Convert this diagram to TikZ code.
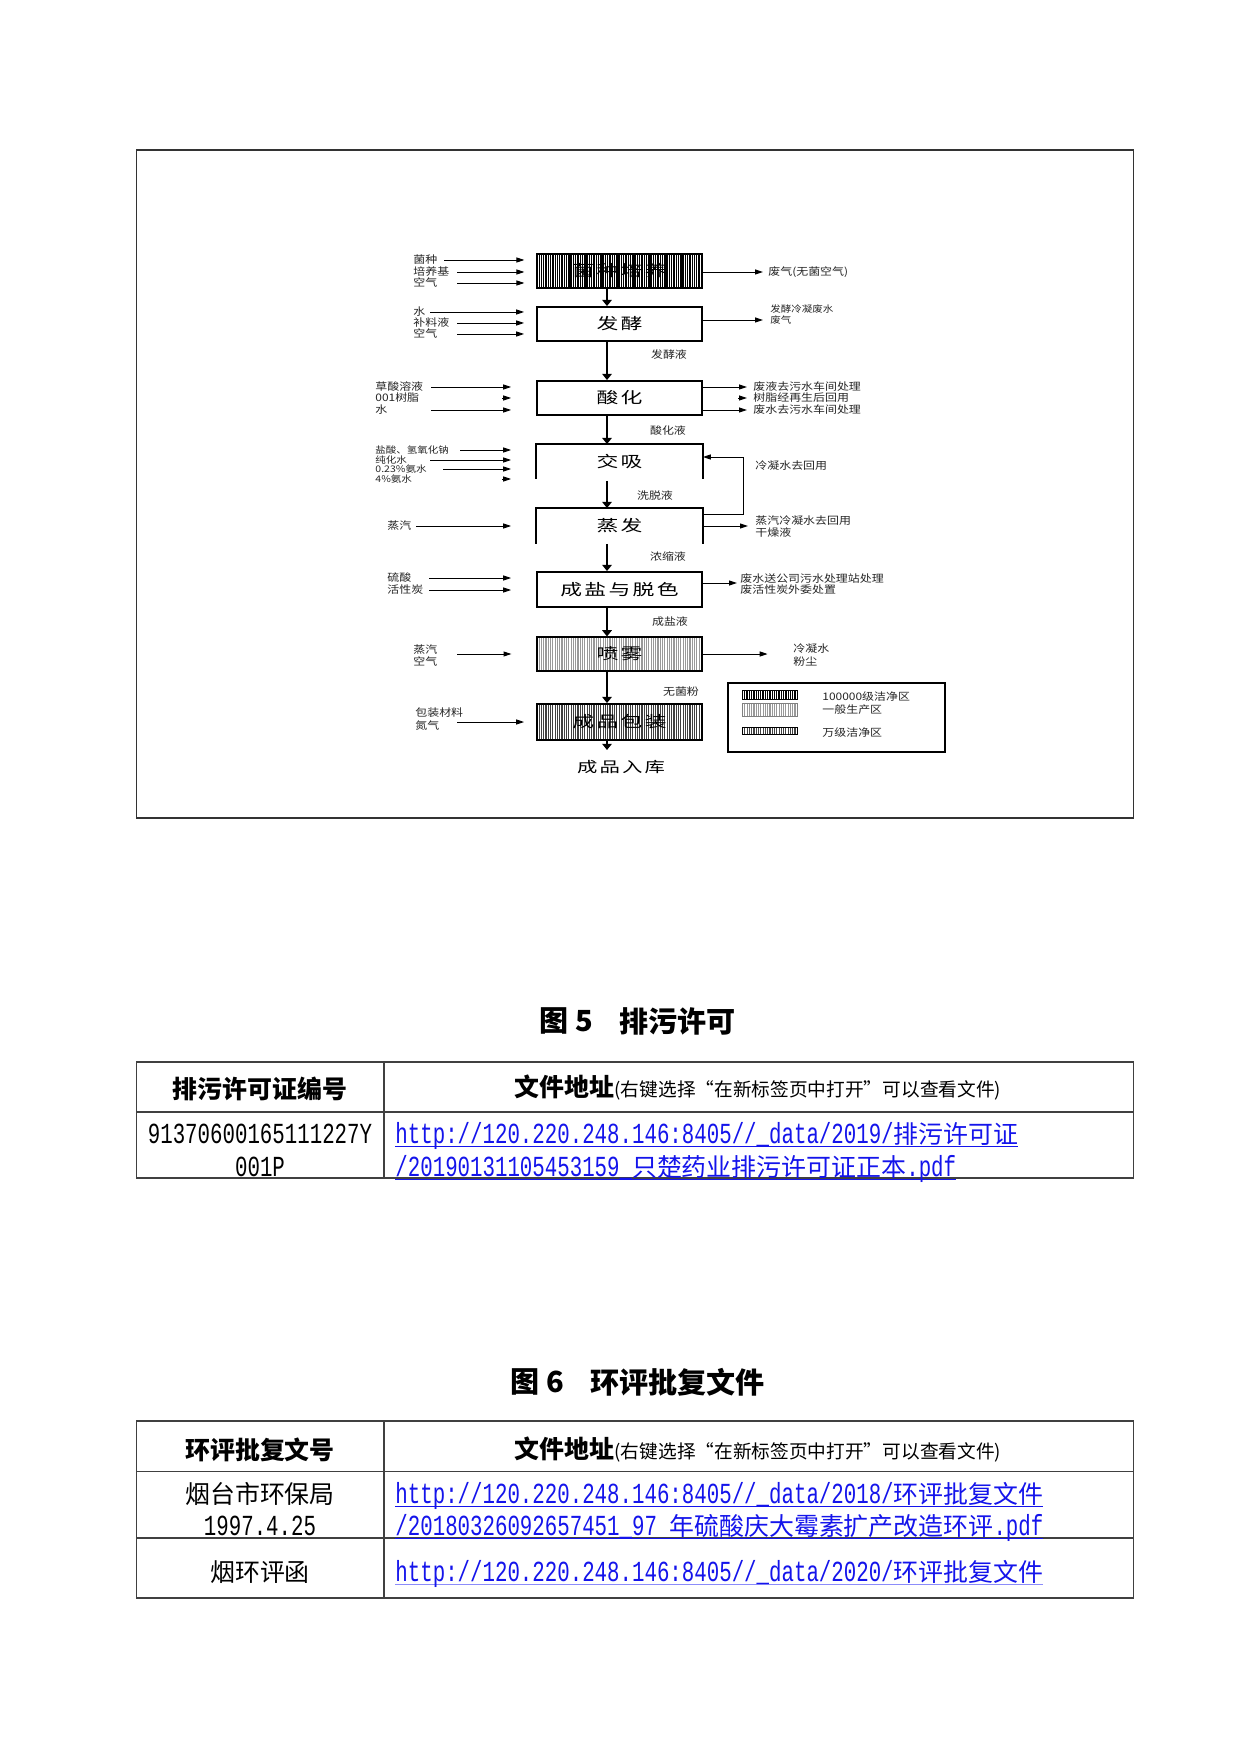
\documentclass[tikz,border=0pt]{standalone}
\usepackage{fontspec}
\setmainfont{Liberation Serif}
\newfontfamily\cjk{Noto Sans CJK SC}
\newfontfamily\cjkwide[FakeStretch=1.4,LetterSpace=15]{Noto Sans CJK SC}
\newfontfamily\cjks[FakeStretch=1.15]{Noto Sans CJK SC}
\newfontfamily\lat[FakeStretch=0.714,Scale=1.1667]{Liberation Mono}
\usetikzlibrary{arrows.meta,patterns.meta,calc}
\definecolor{linkblue}{RGB}{20,20,235}
\definecolor{ullight}{RGB}{140,140,250}
\newcommand\myul[2][linkblue]{\setbox0\hbox{#2}\rlap{\color{#1}\rule[-1.9pt]{\wd0}{0.55pt}}\box0}
\tikzset{
  frame/.style={draw=black!80, line width=0.6pt},
  tline/.style={draw=black!75, line width=0.7pt},
  pbox/.style={draw, line width=0.9pt, minimum width=27.92mm, minimum height=5.75mm, inner sep=0,
    font=\cjkwide\fontsize{7.5}{8}\selectfont},
  openside/.style={line width=0.9pt},
  flow/.style={line width=0.9pt, -{Triangle[length=3pt,width=4.6pt]}},
  inarr/.style={line width=0.45pt, -{Triangle[length=3.8pt,width=2.4pt]}},
  lab/.style={anchor=west, inner sep=0, text=black!85, font=\cjks\fontsize{5}{6}\selectfont},
  tinylab/.style={lab, font=\cjks\fontsize{4.4}{5}\selectfont},
  midlab/.style={inner sep=0, text=black!85, font=\cjks\fontsize{5}{6}\selectfont},
  darkhatch/.style={preaction={fill=white}, pattern={Lines[angle=90,distance=1.1pt,line width=0.65pt]}, pattern color=black},
  lighthatch/.style={preaction={fill=white}, pattern={Lines[angle=90,distance=1.1pt,line width=0.55pt]}, pattern color=black!40},
  midhatch/.style={preaction={fill=white}, pattern={Lines[angle=90,distance=1.1pt,line width=0.55pt]}, pattern color=black!75},
  captext/.style={anchor=west, inner sep=0, font=\cjk\bfseries\fontsize{14}{16}\selectfont},
  hdr/.style={inner sep=0, font=\cjk\bfseries\fontsize{12}{14}\selectfont},
  body/.style={anchor=base, inner sep=0, font=\fontsize{12}{14}\selectfont},
  link/.style={anchor=base west, inner sep=0, text=linkblue, font=\fontsize{12}{14}\selectfont}
}
\begin{document}
\begin{tikzpicture}[x=0.16922mm,y=-0.16922mm]
\useasboundingbox (0,0) rectangle (1241,1754);
\fill[white] (0,0) rectangle (1241,1754);

% ---------- flowchart frame ----------
\draw[frame] (136.5,150) rectangle (1133.5,818);

% ---------- process boxes ----------
\node[pbox, darkhatch] (b1) at (619.5,271) {菌种培养};
\node[pbox] (b2) at (619.5,324) {发酵};
\node[pbox] (b3) at (619.5,398) {酸化};
\node[pbox, draw=none, minimum height=5.58mm] (b4) at (619.5,461.5) {交吸};
\draw[openside] (b4.south west) -- (b4.north west) -- (b4.north east) -- (b4.south east);
\node[pbox, draw=none] (b5) at (619.5,526) {蒸发};
\draw[openside] (b5.south west) -- (b5.north west) -- (b5.north east) -- (b5.south east);
\node[pbox, minimum height=5.92mm] (b6) at (619.5,589.5) {成盐与脱色};
\node[pbox, lighthatch] (b7) at (619.5,654) {喷雾};
\node[pbox, midhatch, minimum height=6.09mm] (b8) at (619.5,722) {成品包装};
\node[inner sep=0, font=\cjkwide\fontsize{7}{8}\selectfont] (fin) at (621,767) {成品入库};

% ---------- main flow ----------
\coordinate (ax) at (607,0);
\coordinate (finend) at (607,750);
\draw[flow] (b1.south -| ax) -- (b2.north -| ax);
\draw[flow] (b2.south -| ax) -- (b3.north -| ax);
\draw[flow] (b3.south -| ax) -- (b4.north -| ax);
\draw[flow] ($(b4.south -| ax)+(0,2)$) -- (b5.north -| ax);
\draw[flow] (b5.south -| ax) -- (b6.north -| ax);
\draw[flow] (b6.south -| ax) -- (b7.north -| ax);
\draw[flow] (b7.south -| ax) -- (b8.north -| ax);
\draw[flow] (b8.south -| ax) -- (finend);

% ---------- intermediate labels ----------
\node[midlab] (m1) at (669,355) {发酵液};
\node[midlab] (m2) at (668,431) {酸化液};
\node[midlab] (m3) at (655,496) {洗脱液};
\node[midlab] (m4) at (668,557) {浓缩液};
\node[midlab] (m5) at (670,622) {成盐液};
\node[midlab] (m6) at (681,692) {无菌粉};

% ---------- inputs ----------
\node[lab] (l11) at (413,260) {菌种};
\node[lab] (l12) at (413,272) {培养基};
\node[lab] (l13) at (413,283) {空气};
\draw[inarr] ($(b1.west|-l11)+(-92,0)$) -- ($(b1.west|-l11)+(-12,0)$);
\draw[inarr] ($(b1.west|-l12)+(-79,0)$) -- ($(b1.west|-l12)+(-12,0)$);
\draw[inarr] ($(b1.west|-l13)+(-79,0)$) -- ($(b1.west|-l13)+(-12,0)$);

\node[lab] (l21) at (413,312) {水};
\node[lab] (l22) at (413,323) {补料液};
\node[lab] (l23) at (413,334) {空气};
\draw[inarr] ($(b2.west|-l21)+(-106,0)$) -- ($(b2.west|-l21)+(-12,0)$);
\draw[inarr] ($(b2.west|-l22)+(-79,0)$) -- ($(b2.west|-l22)+(-12,0)$);
\draw[inarr] ($(b2.west|-l23)+(-79,0)$) -- ($(b2.west|-l23)+(-12,0)$);

\node[lab] (l31) at (375,387) {草酸溶液};
\node[lab] (l32) at (375,398) {001树脂};
\node[lab] (l33) at (375,410) {水};
\draw[inarr] ($(b3.west|-l31)+(-105,0)$) -- ($(b3.west|-l31)+(-25,0)$);
\draw[inarr] ($(b3.west|-l32)+(-34,0)$) -- ($(b3.west|-l32)+(-25,0)$);
\draw[inarr] ($(b3.west|-l33)+(-105,0)$) -- ($(b3.west|-l33)+(-25,0)$);

\node[tinylab] (l41) at (375,450) {盐酸、氢氧化钠};
\node[tinylab] (l42) at (375,460) {纯化水};
\node[tinylab] (l43) at (375,469) {0.23\%氨水};
\node[tinylab] (l44) at (375,479) {4\%氨水};
\draw[inarr] ($(b4.west|-l41)+(-76,0)$) -- ($(b4.west|-l41)+(-25,0)$);
\draw[inarr] ($(b4.west|-l42)+(-106,0)$) -- ($(b4.west|-l42)+(-25,0)$);
\draw[inarr] ($(b4.west|-l43)+(-93,0)$) -- ($(b4.west|-l43)+(-25,0)$);
\draw[inarr] ($(b4.west|-l44)+(-34,0)$) -- ($(b4.west|-l44)+(-25,0)$);

\node[lab] (l51) at (387,526) {蒸汽};
\draw[inarr] ($(b5.west|-l51)+(-120,0)$) -- ($(b5.west|-l51)+(-25,0)$);

\node[lab] (l61) at (387,578) {硫酸};
\node[lab] (l62) at (387,590) {活性炭};
\draw[inarr] ($(b6.west|-l61)+(-107,0)$) -- ($(b6.west|-l61)+(-25,0)$);
\draw[inarr] ($(b6.west|-l62)+(-107,0)$) -- ($(b6.west|-l62)+(-25,0)$);

\node[lab] (l71) at (413,650) {蒸汽};
\node[lab] (l72) at (413,662) {空气};
\draw[inarr] ($(b7.west)+(-79,0)$) -- ($(b7.west)+(-25,0)$);

\node[lab] (l81) at (415,713) {包装材料};
\node[lab] (l82) at (415,726) {氮气};
\draw[inarr] ($(b8.west)+(-79,0)$) -- ($(b8.west)+(-12,0)$);

% ---------- outputs ----------
\node[lab] (r1) at (768,272) {废气(无菌空气)};
\draw[inarr] (b1.east |- r1) -- ($(r1.west)+(-5,0)$);

\node[tinylab] (r2a) at (770,309) {发酵冷凝废水};
\node[tinylab] (r2b) at (770,320) {废气};
\draw[inarr] (b2.east |- r2b) -- ($(r2b.west)+(-7,0)$);

\node[lab] (r3a) at (753,387) {废液去污水车间处理};
\node[lab] (r3b) at (753,398) {树脂经再生后回用};
\node[lab] (r3c) at (753,410) {废水去污水车间处理};
\draw[inarr] (b3.east |- r3a) -- ($(r3a.west)+(-6,0)$);
\draw[inarr] ($(r3b.west)+(-15,0)$) -- ($(r3b.west)+(-6,0)$);
\draw[inarr] (b3.east |- r3c) -- ($(r3c.west)+(-6,0)$);

\node[lab] (r4) at (755,466) {冷凝水去回用};
\coordinate (lp1) at (743,514);
\coordinate (lp2) at (743,457);
\draw[inarr] (b5.east |- lp1) -- (lp1) -- (lp2) -- (b4.east |- lp2);

\node[lab] (r5a) at (755,521) {蒸汽冷凝水去回用};
\node[lab] (r5b) at (755,533) {干燥液};
\draw[inarr] (b5.east) -- ($(b5.east)+(45,0)$);

\node[lab] (r6a) at (740,579) {废水送公司污水处理站处理};
\node[lab] (r6b) at (740,590) {废活性炭外委处置};
\draw[inarr] ($(b6.east|-r6a)+(0,4)$) -- ($(r6a.west)+(-3,4)$);

\node[lab] (r7a) at (793,649) {冷凝水};
\node[lab] (r7b) at (793,662) {粉尘};
\draw[inarr] (b7.east) -- ($(b7.east)+(65,0)$);

% ---------- legend ----------
\draw[line width=0.5pt] (728,683) rectangle (945,752);
\draw[darkhatch, line width=0.4pt] (742,690) rectangle (797,699);
\draw[lighthatch, draw=black!50, line width=0.4pt] (742,703) rectangle (797,716);
\draw[midhatch, line width=0.4pt] (742,727) rectangle (797,734);
\node[lab] (lg1) at (822,697) {100000级洁净区};
\node[lab] (lg2) at (822,710) {一般生产区};
\node[lab] (lg3) at (822,733) {万级洁净区};

% ---------- figure 5 caption & table ----------
\node[captext] (c5a) at (539,1021) {图 5};
\node[captext] (c5b) at (619,1021) {排污许可};

\draw[tline] (136.5,1062) rectangle (1133.5,1178);
\draw[tline] (136.5,1112) -- (1133.5,1112);
\draw[tline] (384,1062) -- (384,1178);
\node[hdr] (h1a) at (260,1089) {排污许可证编号};
\node[hdr] (h1b) at (758,1088) {文件地址{\mdseries\fontsize{9}{11}\selectfont (右键选择“在新标签页中打开”可以查看文件)}};
\node[body] (t1a) at (260,1143) {\lat 91370600165111227Y};
\node[body] (t1b) at (260,1176) {\lat 001P};
\node[link] (t1c) at (395,1143) {\myul{\lat http://120.220.248.146:8405//\_data/2019/{\cjk 排污许可证}}};
\node[link] (t1d) at (395,1176) {\myul{\lat /20190131105453159\_{\cjk 只楚药业排污许可证正本}.pdf}};

% ---------- figure 6 caption & table ----------
\node[captext] (c6a) at (510,1382) {图 6};
\node[captext] (c6b) at (590,1382) {环评批复文件};

\draw[tline] (136.5,1421) rectangle (1133.5,1598);
\draw[tline] (136.5,1471.5) -- (1133.5,1471.5);
\draw[tline] (136.5,1538) -- (1133.5,1538);
\draw[tline] (384,1421) -- (384,1598);
\node[hdr] (h2a) at (260,1450) {环评批复文号};
\node[hdr] (h2b) at (758,1449) {文件地址{\mdseries\fontsize{9}{11}\selectfont (右键选择“在新标签页中打开”可以查看文件)}};
\node[body, font=\cjk\fontsize{12}{14}\selectfont] (t2a) at (260,1503) {烟台市环保局};
\node[body] (t2b) at (260,1535) {\lat 1997.4.25};
\node[body, font=\cjk\fontsize{12}{14}\selectfont] (t2c) at (260,1581) {烟环评函};
\node[link] (t2d) at (395,1503) {\myul{\lat http://120.220.248.146:8405//\_data/2018/{\cjk 环评批复文件}}};
\node[link] (t2e) at (395,1535) {\myul{\lat /20180326092657451\_97 {\cjk 年硫酸庆大霉素扩产改造环评}.pdf}};
\node[link] (t2f) at (395,1581) {\myul[ullight]{\lat http://120.220.248.146:8405//\_data/2020/{\cjk 环评批复文件}}};
\end{tikzpicture}
\end{document}
